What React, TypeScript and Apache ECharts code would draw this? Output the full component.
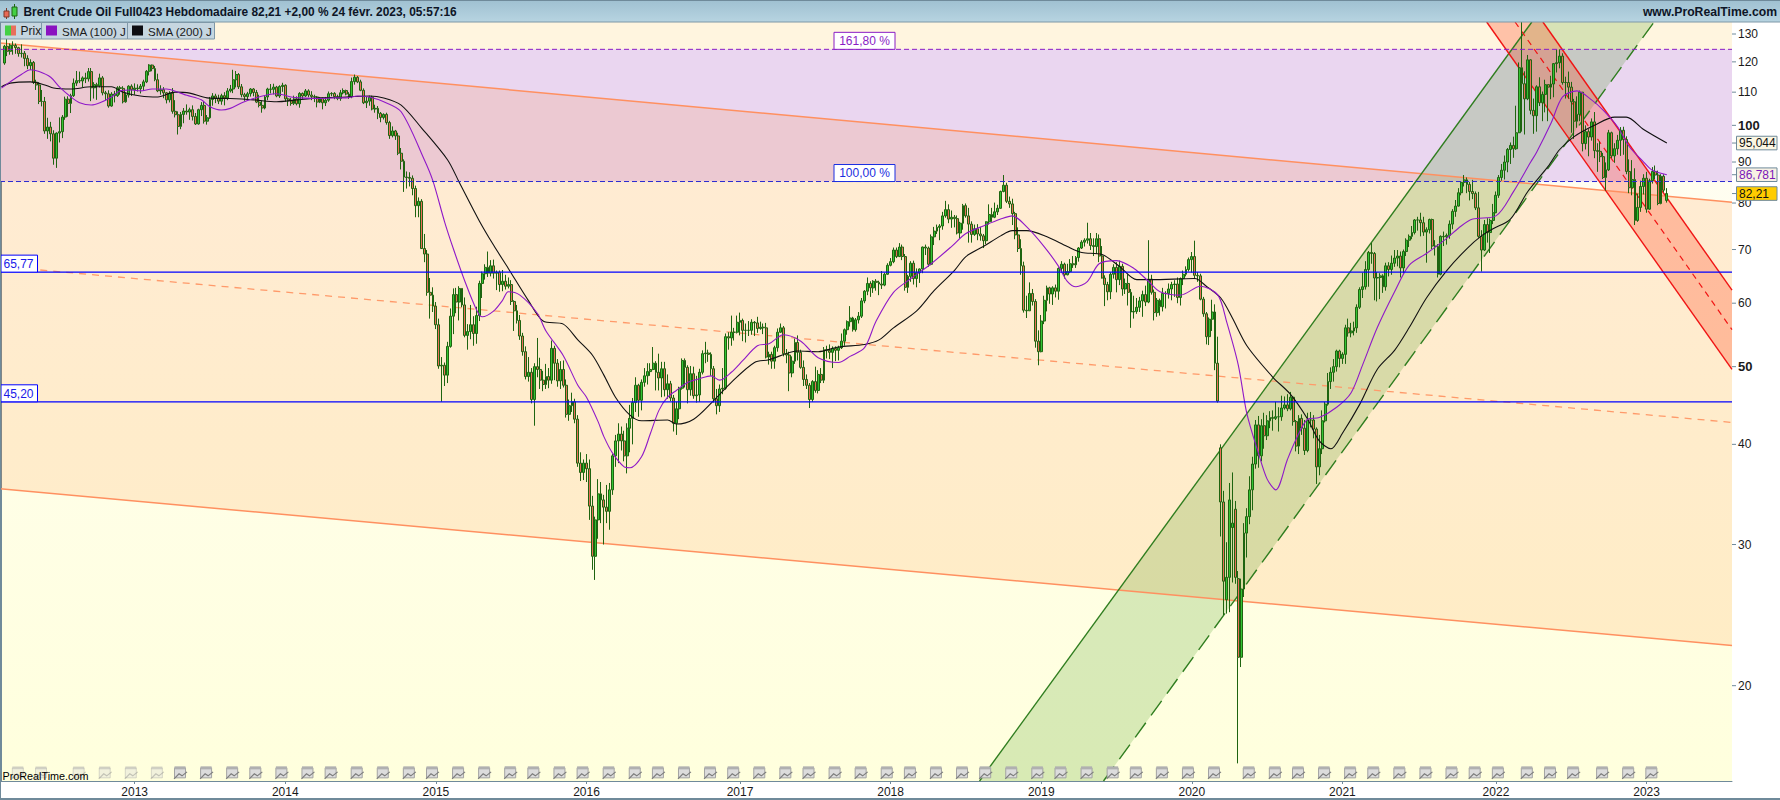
import React, { useEffect, useRef } from "react";
import * as echarts from "echarts";

const FONT = '"Liberation Sans", Arial, sans-serif';

// Weekly candles: [open, close, low, high]
const y2012 = [
[119.6,125.5,119,126],[125.5,123.7,122,128.4],[123.7,125.9,122.5,126.5],[125.9,125.8,122.5,127.3],[125.8,125,122.8,126.5],[125,122.9,121.8,125.3],[122.9,123,121.5,126.2],[123,121.2,118.5,123.8],[121.2,118.7,117.5,122.3],[118.7,119.8,117.2,120.9],
[119.8,113.2,112.6,120.3],[113.2,112.3,110.7,114],[112.3,107.1,106.3,113.2],[107.1,107.1,105.6,110.7],[107.1,98.4,97.6,108.5],[98.4,99.5,96.2,102.2],[99.5,97.6,95.5,101],[97.6,91,89.3,98.6],[91,97.8,88.5,98],[97.8,98.2,95.2,102.3],
[98.2,102.4,96.4,103],[102.4,107.8,101.6,108.6],[107.8,106.5,102.5,108.7],[106.5,108.9,103.6,109.5],[108.9,112.9,108.5,114.4],[112.9,113.7,112,116.9],[113.7,113.6,112.9,116.7],[113.6,114.6,111.6,115.1],[114.6,114.3,112.9,116.3],[114.3,116.7,113.4,117.9],
[116.7,111.4,107.2,117.9],[111.4,112.4,108,113.2],[112.4,112,107.6,113],[112,114.6,111.5,116],[114.6,109.8,109,115.2],[109.8,109.5,107.5,110.4],[109.5,105.7,105.2,110.6],[105.7,109.4,105.5,110],[109.4,108.9,106.8,110.4],[108.9,111.4,108.5,111.9],
[111.4,111.2,109.2,112],[111.2,107,106.5,111.9],[107,109.1,106.7,109.9],[109.1,111.9,108.3,112.2],[111.9,110.8,108.8,112.5],
];
const y2013 = [
[110.8,111.3,109.2,112.8],[111.3,111.1,110.2,112.5],[111.1,111.9,109.6,112.6],[111.9,113.3,110.5,114],[113.3,116.8,112.9,117.2],[116.8,118.9,115.4,119.2],[118.9,117.7,116.8,119.1],[117.7,114,113.5,118.6],[114,110.4,110,116],[110.4,110.8,109.2,112.2],
[110.8,109.8,108.1,111.6],[109.8,107.6,106.5,110],[107.6,109.7,106.8,110.3],[109.7,104.1,103.4,111.3],[104.1,103.1,102.3,107.5],[103.1,99.7,97.4,104.1],[99.7,103.2,98.9,103.9],[103.2,104.2,100.6,105.1],[104.2,103.9,103.1,106.2],[103.9,104.6,101.6,105.2],
[104.6,102.6,101.4,105.9],[102.6,100.4,100.1,103.6],[100.4,104.6,100.2,104.9],[104.6,105.9,102.7,106.9],[105.9,101.2,100.5,107.2],[101.2,102.2,100.2,103],[102.2,107.7,101.9,108.5],[107.7,108.8,105.8,109.7],[108.8,108.1,106.6,109.5],[108.1,107.2,106.3,109.2],
[107.2,108.9,106.1,109.5],[108.9,108.2,105.9,110],[108.2,110.4,107.5,111.3],[110.4,111,109.9,112.3],[111,114,109.7,117.3],[114,115.7,111.5,116.9],[115.7,111.7,111,116.2],[111.7,109.2,108.4,112.6],[109.2,108.6,107.3,109.8],[108.6,109.5,107.5,110.1],
[109.5,111,108.6,111.3],[111,109.9,108.7,111.3],[109.9,106.9,106.6,110.7],[106.9,105.9,105.3,109.2],[105.9,105.1,103.7,107.4],[105.1,108.5,104.7,108.9],[108.5,111,107.5,111.4],[111,110.9,109.6,112.6],[110.9,111.6,109.3,112.7],[111.6,108.8,108.4,112],
[108.8,111.8,108.2,112.2],[111.8,112.2,110.1,113],
];
const y2014 = [
[112.2,107.9,107,112.5],[107.9,107.3,105.7,108.3],[107.3,106.5,105.8,108.2],[106.5,107.9,106,108.9],[107.9,106.4,105.9,108.7],[106.4,109.6,105.2,110],[109.6,108.8,107.8,109.9],[108.8,110.4,108.5,111],[110.4,109.1,108.4,110.9],[109.1,108.6,107.5,110.3],
[108.6,108.5,106.9,109.2],[108.5,106.9,105.3,108.8],[106.9,108.1,106.6,108.5],[108.1,106.7,104.7,108.3],[106.7,107.5,105.7,108.5],[107.5,109.5,107,110.2],[109.5,109.6,108.7,110],[109.6,108.6,107.8,110],[108.6,108,107.5,109.2],[108,109.8,107.3,110.7],
[109.8,110.5,109.3,111.2],[110.5,109.4,109,110.8],[109.4,108.6,107.9,110],[108.6,113.4,108.1,114.7],[113.4,114.8,112.4,115.7],[114.8,113.3,112.9,115.2],[113.3,110.6,110.3,114],[110.6,106.7,106.3,111.2],[106.7,107.2,105.1,108.5],[107.2,108.4,105.8,108.9],
[108.4,104.8,104.4,108.9],[104.8,105,103.7,106.1],[105,103.5,101.8,105.7],[103.5,102.3,100.9,103.9],[102.3,103.2,101.7,103.5],[103.2,100.8,100.2,103.7],[100.8,97.1,96.2,101.3],[97.1,98.4,96.6,99.7],[98.4,97,95.9,98.7],[97,92.3,91.8,97.9],
[92.3,90.2,88.1,93.7],[90.2,86.2,82.6,90.7],[86.2,86.1,83.4,87.6],[86.1,85.9,83.9,87.4],[85.9,83.4,81.8,86.6],[83.4,79.4,76.8,84.1],[79.4,80.4,76.8,81.3],[80.4,70.2,70.1,80.9],[70.2,69.1,67.5,73.2],[69.1,61.9,61.3,69.9],
[61.9,61.4,57.4,64.5],[61.4,59.5,58.5,62.8],
];
const y2015 = [
[59.5,56.4,55.7,60.2],[56.4,50.1,49.7,57.4],[50.1,50.2,45.2,51.4],[50.2,48.8,47.3,50.6],[48.8,53,47.7,53.7],[53,57.8,52.8,59.1],[57.8,61.5,54.9,62.6],[61.5,60.2,58.3,62.7],[60.2,62.6,57.1,63],[62.6,59.7,59.3,62.6],
[59.7,54.7,54.4,61],[54.7,55.3,52.5,56.5],[55.3,56.4,54.1,59.7],[56.4,55,53.1,57.8],[55,57.9,53.4,59.4],[57.9,63.5,57,64],[63.5,65.3,60.9,65.7],[65.3,66.5,64.2,67.1],[66.5,65.4,64.7,69.6],[65.4,66.8,64.8,67.9],
[66.8,65.4,64.4,68],[65.4,65.6,62.3,65.9],[65.6,63.3,62,65.9],[63.3,63.9,62.1,66],[63.9,63,62.4,65.1],[63,63.3,62.6,64.6],[63.3,60.3,59.7,64.1],[60.3,58.7,55.4,60.5],[58.7,57.1,56.6,59.7],[57.1,54.6,54,58],
[54.6,52.2,51.6,55.1],[52.2,48.6,48.2,53],[48.6,49.2,47.9,51.4],[49.2,45.5,45,49.8],[45.5,50,42.2,50.5],[50,49.6,48.5,54.3],[49.6,48.1,46.9,51.3],[48.1,47.5,46.6,49.4],[47.5,48.6,46.9,50.4],[48.6,48.1,47,49.8],
[48.1,52.7,47.6,53.9],[52.7,50.5,48.1,53.1],[50.5,48,47.2,51.1],[48,49.6,46.9,50.8],[49.6,47.4,47.1,50.9],[47.4,43.6,43.2,48.2],[43.6,44.7,42.8,45.5],[44.7,45.2,43.9,46.4],[45.2,43,42.5,45.6],[43,37.9,37.5,43.5],
[37.9,36.9,36,39.1],[36.9,37.9,36.1,38.3],
];
const y2016 = [
[37.9,37.3,35.9,38.9],[37.3,33.5,32.2,38.3],[33.5,29,27.9,34.5],[29,32.2,27.1,32.5],[32.2,34.7,30.5,36.2],[34.7,34.1,31.9,35.9],[34.1,33.4,30,34.6],[33.4,33,31.9,35.6],[33,35.1,31.3,35.8],[35.1,38.7,34.6,38.9],
[38.7,40.4,37.5,41.1],[40.4,41.2,37.9,42.5],[41.2,40.4,39.3,42.1],[40.4,38.7,38.1,41.6],[38.7,41.9,36.8,42.5],[41.9,43.1,39.1,44.8],[43.1,45.1,40,45.7],[45.1,47.4,43.9,48.5],[47.4,45.4,43.3,47.6],[45.4,47.8,44.1,48.2],
[47.8,48.7,47.2,49.8],[48.7,49.3,47.5,50.5],[49.3,49.6,48.7,50.5],[49.6,50.5,49.5,52.9],[50.5,49.2,46.7,50.8],[49.2,48.4,46.7,51.9],[48.4,49.7,45.8,50.7],[49.7,46.8,45.9,50.7],[46.8,47.6,45.6,48.9],[47.6,45.7,45.3,48],
[45.7,42.5,41.5,46.1],[42.5,44.3,41.1,45.2],[44.3,47,43,47.2],[47,50.9,46.8,51.2],[50.9,49.9,47.1,51.2],[49.9,46.8,45,50.2],[46.8,49,46,50.1],[49,46,45.6,50],[46,46.1,45.1,48.7],[46.1,49.2,45.2,49.7],
[49.2,51.9,48.9,52.4],[51.9,52,50.5,53.7],[52,51.8,50.7,52.5],[51.8,49.7,48.7,52.1],[49.7,45.6,45.1,50.1],[45.6,44.7,43.6,46.9],[44.7,46.9,43.9,47.5],[46.9,47,46.2,49.8],[47,54.5,46.8,55],[54.5,54.3,52.5,55.2],
[54.3,55.2,53.1,57.9],[55.2,55.2,53.9,55.9],[55.2,56.8,55,57.9],
];
const y2017 = [
[56.8,57.1,54.7,58.4],[57.1,55.5,53.8,57.4],[55.5,55.5,53.6,56.6],[55.5,55.5,54.6,57],[55.5,56.8,54.8,57.3],[56.8,56.7,54.6,57],[56.7,55.8,55.1,57.7],[55.8,56,55.6,56.9],[56,55.9,54.9,56.6],[55.9,51.4,51.2,56.7],
[51.4,51.8,50.3,52.2],[51.8,50.8,49.7,52.2],[50.8,52.8,49.7,53.1],[52.8,55.2,52.2,55.8],[55.2,55.9,55.1,56.6],[55.9,51.9,51.5,56.2],[51.9,51.7,50.5,52.6],[51.7,49.1,46.6,52.2],[49.1,50.8,48.5,51.5],[50.8,53.6,50.4,54.2],
[53.6,52.1,50.9,54.7],[52.1,49.9,49.7,52.5],[49.9,48.2,47.3,50.9],[48.2,47.4,46.9,48.9],[47.4,45.5,44.4,47.7],[45.5,47.9,45.2,48.1],[47.9,46.7,46.4,50],[46.7,48.9,46.3,49.5],[48.9,48.1,47.7,49.8],[48.1,52.5,47.7,52.9],
[52.5,52.4,51.2,53.1],[52.4,52.1,51.1,53.3],[52.1,52.7,49.8,53],[52.7,52.4,50.8,53],[52.4,52.8,50.9,53.1],[52.8,53.8,52.6,55],[53.8,55.6,53.1,55.8],[55.6,56.9,54.8,57.1],[56.9,57.5,56.1,59.5],[57.5,55.6,55.3,57.7],
[55.6,57.2,55.3,57.5],[57.2,57.8,56.6,58.5],[57.8,60.4,57.5,60.9],[60.4,62.1,60,62.3],[62.1,63.5,61.4,64.6],[63.5,62.7,61.1,63.9],[62.7,63.9,61.8,64.1],[63.9,63.7,62.2,64.3],[63.7,63.4,61.4,64],[63.4,63.2,62.5,65.8],
[63.2,65.2,63,65.5],[65.2,66.9,65.1,67.3],
];
const y2018 = [
[66.9,67.6,66.7,68.3],[67.6,69.9,67.3,70.4],[69.9,68.6,68.3,70.4],[68.6,70.5,68.5,71.3],[70.5,68.6,67.9,71],[68.6,62.8,62.2,69.1],[62.8,64.8,61.8,65.1],[64.8,67.3,63.8,67.7],[67.3,64.4,63.3,67.8],[64.4,65.5,62.8,66.3],
[65.5,66.2,63.6,66.3],[66.2,70.5,65.4,70.6],[70.5,70.3,68.9,71],[70.3,67.1,66.6,70.6],[67.1,72.6,66.9,73.1],[72.6,73.8,70.9,74.7],[73.8,74.6,73.2,75.2],[74.6,74.9,71.9,75.3],[74.9,77.1,74.1,78],[77.1,78.5,76.7,80.5],
[78.5,76.4,75.5,79.7],[76.4,76.8,74.5,78.3],[76.8,76.5,74.6,77.3],[76.5,73.4,73.1,77.2],[73.4,75.5,72.2,75.8],[75.5,79.4,74.1,79.8],[79.4,77.1,76.7,79.9],[77.1,75.3,71.4,78.9],[75.3,73.1,71.4,75.9],[73.1,74.3,72.8,75.2],
[74.3,73.2,71.9,75.3],[73.2,72.8,71.8,74.7],[72.8,71.8,70.3,73.2],[71.8,75.8,71.1,75.9],[75.8,77.4,75.2,79.7],[77.4,76.8,75.8,78.9],[76.8,78,76.6,80.1],[78,78.8,77.3,79.6],[78.8,82.7,78.7,82.9],[82.7,84.2,82.5,86.7],
[84.2,80.4,80,84.8],[80.4,79.8,78.9,81.5],[79.8,77.6,75.1,81],[77.6,73,72.1,78],[73,70.2,69.5,74.6],[70.2,66.8,65.1,72.1],[66.8,58.8,58.4,67.6],[58.8,58.7,57.5,61.3],[58.7,61.7,58.7,63.7],[61.7,60.3,59.6,62.5],
[60.3,53.8,52.8,60.7],[53.8,52.2,50.2,55.5],
];
const y2019 = [
[52.2,57,52.1,58],[57,60.5,56.5,61.3],[60.5,62.7,58.6,63.1],[62.7,61.6,59.9,62.9],[61.6,62.7,59.7,63],[62.7,62.1,61,63.3],[62.1,66.3,60.6,66.5],[66.3,67.1,65.5,67.7],[67.1,65.1,64.4,67.4],[65.1,65.7,65,67.2],
[65.7,67.2,65.4,68.1],[67.2,67,66.4,68.7],[67,68.4,66.4,68.7],[68.4,70.3,67.6,70.5],[70.3,71.5,70.1,71.9],[71.5,71.9,70.6,72.3],[71.9,72.2,71.2,75.6],[72.2,70.8,69.9,73.4],[70.8,70.6,68.7,72.3],[70.6,72.2,69.1,73.4],
[72.2,68.7,67.5,73.1],[68.7,64.5,64.4,70.7],[64.5,63.3,59.5,65],[63.3,62,60.5,63.8],[62,65.2,60.7,65.6],[65.2,66.5,64.4,67.1],[66.5,64.2,61.9,67.5],[64.2,66.7,63.2,67.8],[66.7,62.5,61.3,67.2],[62.5,63.5,61.6,64.4],
[63.5,61.9,59.6,65.2],[61.9,58.5,55.9,62.5],[58.5,58.6,57.4,61.3],[58.6,59.3,58.2,60.9],[59.3,60.4,58.5,61.1],[60.4,61.5,57.7,62.2],[61.5,60.2,59.5,63.1],[60.2,64.3,60,71.9],[64.3,61.9,61.5,65.1],[61.9,58.4,57.1,62.4],
[58.4,60.5,57.7,60.9],[60.5,59.4,57.9,60.8],[59.4,61.7,58.6,62.7],[61.7,61.7,59.1,62.1],[61.7,62.5,60.8,63.5],[62.5,63.3,60.5,63.8],[63.3,63.4,61.1,64.1],[63.4,61,60,64.6],[61,64.4,59.6,64.6],[64.4,65.2,63.2,65.9],
[65.2,66.1,64.8,66.7],[66.1,68,65.7,68.4],
];
const y2020 = [
[68,68.6,65.5,69.5],[68.6,65,64.3,71.8],[65,64.9,63.8,65.6],[64.9,60.7,60.5,65.3],[60.7,58.2,57.7,61.1],[58.2,54.5,53.3,58.5],[54.5,57.3,53.2,57.6],[57.3,58.5,55.4,60.6],[58.5,50.5,49.5,59.8],[50.5,45.3,45.1,54.5],
[39.6,33.9,30.7,40],[33.9,27,24.5,35],[25.6,27.3,24.6,30.2],[27.3,34.1,24.7,35.8],[31.5,31.9,26.9,36.9],[33.2,27.3,26.8,34],[27.2,21.7,16,27.8],[21.7,26.4,21.1,27.2],[26.4,31,25.8,31.9],[31,32.5,28.9,33.3],
[32.5,35.1,31.8,36.5],[35.1,37.8,33.1,38.6],[37.8,42.3,37.3,42.9],[42.3,38.7,37.4,43.4],[38.7,42.2,38.1,43],[42.2,41,39.5,43.8],[41,42.8,40.5,43.5],[42.8,43.2,41.9,44],[43.2,43.1,41.6,44.1],[43.1,43.3,42.9,45.2],
[43.3,43.3,41.5,44.5],[43.3,44.4,42.8,46],[44.4,44.8,44.2,45.9],[44.8,44.3,44,46.2],[44.3,45.8,44.1,46.5],[45.8,42.7,42.2,45.9],[42.7,39.8,39.2,42.9],[39.8,43.1,38.9,43.5],[43.1,41.9,41.1,43.6],[41.9,39.3,38.8,42.9],
[39.3,42.9,39.1,43.8],[42.9,42.9,42,43.9],[42.9,41.8,40.7,43.5],[41.8,37.5,35.7,42],[37.5,39.5,36.6,41.1],[39.5,42.8,38.9,44.1],[42.8,44.9,42.6,45.2],[44.9,47.9,44.7,49.1],[47.9,49.2,46.9,49.9],[49.2,50,47.9,51.1],
[50,52.3,49.3,52.5],[52.3,51.2,49.9,52.5],
];
const y2021 = [
[51.2,51.8,50.4,52.1],[51.8,55.9,50.4,56.4],[55.9,55.1,54.5,57.4],[55.1,55.4,54.4,56.7],[55.4,55.9,54.7,56.9],[55.9,59.3,55.1,59.8],[59.3,62.4,59,62.8],[62.4,62.9,60.9,65.5],[62.9,66.1,62.4,67.7],[66.1,69.4,62.9,69.7],
[69.4,69.2,67.2,71.4],[69.2,64.5,60.5,69.5],[64.5,64.6,60.3,65.6],[64.6,64.9,60.7,65.4],[64.9,62.9,61.8,65.2],[62.9,66.8,62.2,67.4],[66.8,66.1,64.8,67.5],[66.1,67.3,65.1,68.8],[67.3,68.3,66.6,69.9],[68.3,68.7,66.7,69.9],
[68.7,66.4,64.6,69.6],[66.4,69.6,65.4,70],[69.6,71.9,68.7,72.3],[71.9,72.7,70.5,73.1],[72.7,73.5,72.1,74.9],[73.5,76.2,73.1,76.4],[76.2,76.2,73.9,76.9],[76.2,75.6,72.7,77.8],[75.6,73.6,72.8,76.9],[73.6,74.1,67.4,74.6],
[74.1,76.3,73.3,76.5],[76.3,70.7,70.1,76.5],[70.7,70.6,68.8,71.9],[70.6,65.2,64.6,71.1],[65.2,72.7,65,72.9],[72.7,72.6,70.7,73.7],[72.6,72.9,71,73.3],[72.9,75.3,72.2,76.1],[75.3,78.1,74.2,78.6],[78.1,79.3,76.9,80.7],
[79.3,82.4,79.2,83.5],[82.4,84.9,81.8,85.1],[84.9,85.5,83.9,86.7],[85.5,84.4,82.3,86.1],[84.4,82.7,80.6,85],[82.7,82.2,80.9,85.5],[82.2,78.9,78.4,82.7],[78.9,72.7,72.4,82.6],[72.7,69.9,65.7,74],[69.9,75.2,69.7,76.2],
[75.2,73.5,71.4,76.6],[73.5,76.1,69.3,76.5],[76.1,77.8,75.3,79.8],
];
const y2022 = [
[77.8,81.8,77.7,82.7],[81.8,86.1,81.2,86.7],[86.1,87.9,85.3,89.5],[87.9,90,85.6,91.7],[90,93.3,87.4,93.7],[93.3,94.4,89.5,95.2],[94.4,93.5,91.1,96.8],[93.5,97.9,93.2,105.8],[97.9,118,97.8,119.8],[118,112.7,98.2,139.1],
[112.7,107.9,97.4,116.8],[107.9,120.7,107.5,122.4],[120.7,104.4,103.2,120.9],[104.4,102.8,97.6,108],[102.8,111.7,98.2,112.2],[111.7,106.7,105.7,114.8],[106.7,109.3,101.2,110.2],[109.3,112.4,103.8,114],[112.4,111.6,101.2,112.5],[111.6,112.6,107.8,115.3],
[112.6,119.4,108.4,119.6],[119.4,119.7,116.4,124.4],[119.7,122,117.8,124.4],[122,113.1,112.4,123],[113.1,113.1,108,115],[113.1,111.6,108,116.7],[111.6,107,97.9,113.3],[107,101.2,96.2,107.9],[101.2,103.2,99.3,108.7],[103.2,110,101.2,110.5],
[110,94.9,92.8,110],[94.9,98.2,93.3,100],[98.2,96.7,91.5,98.9],[96.7,101,95.7,102],[101,93,91,103.9],[93,92.8,87.5,95],[92.8,91.4,90,95.5],[91.4,86.1,85.7,92.4],[86.1,88,82.9,89.9],[88,97.9,87.7,98.7],
[97.9,91.6,91,98.2],[91.6,93.5,89.8,95],[93.5,95.8,91.9,97.3],[95.8,98.6,91.6,99.5],[98.6,96,91.9,99.6],[96,87.6,86.9,96.9],[87.6,83.6,82.3,90.7],[83.6,85.6,81.8,90.5],[85.6,76.1,75.1,88.4],[76.1,79,75.8,82.2],
[79,83.9,78,85.3],[83.9,85.9,82,86.9],
];
const y2023 = [
[85.9,78.6,77.8,87.5],[78.6,85.3,78.5,85.8],[85.3,87.6,84.6,88.7],[87.6,86.7,85.7,89.1],[86.7,79.9,79.5,87.8],[79.9,86.4,79.7,86.9],[86.4,83,82.5,86.9],[80.6,82.21,80.1,83.5],
];

// [week index, value] points
const sma100 = [[0,111.3],[3,113.3],[7,115.8],[10,117.3],[13,116.7],[17,114.8],[20,111.7],[24,108.5],[27,106.7],[31,106],[34,106.7],[38,108.5],[41,110.4],[45,110.7],[48,110.4],[52,111],[57,111],[61,110],[64,109],[69,107.6],[72,105.5],[76,104.5],[79,105],[83,106.7],[87,108],[92,109.2],[95,109.5],[100,108.5],[103,108.2],[110,108],[115,108.2],[119,108.2],[123,108.8],[127,108.5],[132,107],[138,104],[146,90.6],[149,85.2],[153,75.8],[156,70.2],[160,63.9],[164,58.9],[166,57.7],[170,58.7],[173,60.5],[175,62],[179,61.4],[185,58.3],[188,55.4],[194,51.6],[199,47.4],[202,45.8],[206,42.7],[208,40.9],[211,39],[215,37.5],[217,37.4],[221,38.6],[224,41.2],[227,44.1],[230,45.8],[233,46.7],[237,47.8],[241,48.3],[245,48.7],[248,48.1],[252,49.2],[256,50.9],[261,53.1],[265,53.4],[270,54.8],[276,53.8],[282,51.3],[289,50.6],[293,51.5],[298,52.8],[302,57],[308,61.9],[314,64.4],[321,67.2],[328,70.6],[333,73.3],[339,74.9],[345,76.4],[349,77.1],[354,74.7],[360,70.6],[365,66.7],[368,63.9],[371,62.9],[375,63.9],[379,67.2],[385,67.8],[391,66.3],[396,63.9],[400,62],[407,61.4],[414,63],[420,61.4],[423,56.9],[427,50.3],[430,43.7],[434,39],[437,36.2],[440,35.1],[444,38.3],[447,40.6],[451,43],[455,43.2],[461,44.5],[466,46.4],[470,50.3],[475,55.9],[481,62],[486,66.9],[492,69.2],[498,71.8],[504,74.9],[508,76.4],[516,77.1],[522,82.6],[528,90],[530,92.5],[535,100.6],[539,108.5],[544,110.4],[549,107.6],[553,104.5],[558,99.6],[562,94.1],[567,90],[570,87.9],[575,86.781]];
const sma200 = [[0,111.7],[3,112.9],[10,113.3],[15,112.3],[18,111.3],[24,111],[31,111.7],[38,111.7],[42,110],[48,108.8],[54,108.5],[60,110],[65,109.7],[71,108.2],[79,108],[87,107.6],[95,107],[102,107.6],[110,108.2],[119,108.5],[127,108.8],[132,108.2],[138,106],[145,99.3],[154,90.6],[158,85],[165,76],[170,70.8],[175,66.3],[182,60.4],[187,57],[194,56.5],[199,54],[204,51.7],[208,48.8],[212,45.8],[217,43.5],[221,42.8],[230,42.9],[233,42.4],[239,43],[246,45.4],[252,47.8],[260,50.6],[265,51],[275,52.3],[282,52.2],[289,52.9],[298,53.3],[303,54],[308,55.9],[316,58.7],[322,62.2],[329,65.9],[333,68.6],[339,70.6],[345,72.8],[349,73.9],[354,73.9],[361,72.6],[368,70.6],[373,69.4],[380,69],[386,66.7],[392,64.2],[397,64.2],[412,64.4],[416,63],[421,60.9],[425,57.5],[430,53.1],[439,48.5],[445,46.2],[451,43],[455,40.4],[459,39.5],[463,41.3],[469,44.9],[475,49.6],[481,52.4],[486,55.9],[492,60.9],[499,65.9],[506,70.2],[511,72.8],[515,74.3],[521,76.4],[527,82.7],[534,88.9],[538,93.3],[543,96.8],[550,100],[557,102.4],[561,102.4],[567,98.8],[575,95.044]];

// axes
const firstWeek = Date.UTC(2012, 1, 17);
const weekCount = 598;
const categories: string[] = [];
for (let i = 0; i < weekCount; i++) categories.push(new Date(firstWeek + i * 7 * 864e5).toISOString().slice(0, 10));
const priceMin = 15.21;
const priceMax = 134.56;
const weekMin = -0.5;
const weekMax = 597.5;
const priceTicks = [130, 120, 110, 100, 90, 80, 70, 60, 50, 40, 30, 20];
const boldTicks = [100, 50];

// levels and channels: [week, price]
const fibLevels = [124.4, 85.1];
const fibLabels = ["161,80 %", "100,00 %"];
const fibColors = ["#8a1cc4", "#1a2ee0"];
const supportLevels = [65.6, 45.2];
const supportLabels = ["65,77", "45,20"];
const orangeTop = [[-0.5, 126.7], [597.5, 80.2]];
const orangeMid = [[13.4, 66], [597.5, 42.6]];
const orangeBottom = [[-0.5, 35.2], [597.5, 22.44]];
const greenTop = [[337.7, 15.21], [528.4, 134.56]];
const greenBottom = [[380.5, 15.21], [570.6, 134.56]];
const redTop = [[532.2, 134.56], [597.5, 62.3]];
const redMid = [[522.6, 134.56], [597.5, 55.6]];
const redBottom = [[512.8, 134.56], [597.5, 49.6]];
const lastValues = [95.044, 86.781, 82.21];
const lastTexts = ["95,044", "86,781", "82,21"];
const lastFills = ["#fbf6e2", "#f7f1e4", "#ffcc00"];
const lastInk = ["#111111", "#7a18b8", "#111111"];
const eventWeeks = [6,14,27,36,45,54,62,71,80,88,97,106,114,123,132,141,149,158,167,176,184,193,201,210,219,227,236,245,253,262,271,279,288,297,306,314,323,332,340,349,358,366,375,384,392,401,410,419,431,440,448,457,466,474,483,492,501,509,517,527,535,543,553,562,570];
const fadedEvents = 6;

const zones = [
  { fill: "#fff5df", points: [[weekMin, priceMax], [weekMax, priceMax], [weekMax, fibLevels[0]], [weekMin, fibLevels[0]]] },
  { fill: "#ead6f0", points: [[weekMin, fibLevels[0]], [weekMax, fibLevels[0]], [weekMax, fibLevels[1]], [weekMin, fibLevels[1]]] },
  { fill: "rgba(255,105,0,0.12)", points: [orangeTop[0], orangeTop[1], orangeBottom[1], orangeBottom[0]] },
  { fill: "rgba(60,150,20,0.2)", points: [greenTop[0], greenTop[1], greenBottom[1], greenBottom[0]] },
  { fill: "rgba(255,50,10,0.26)", points: [redTop[0], [weekMax, redTop[1][1]], redBottom[1], redBottom[0]] },
];

const SLATE = "#6f8a9a";

function lineSeries(points: number[][], color: string, width: number, type: any, z: number) {
  return {
    type: "line", xAxisIndex: 1, yAxisIndex: 0, data: points, symbol: "none", silent: true, z,
    lineStyle: { color, width, type }, clip: true,
  };
}

function sideText(text: string, x: number, y: number, fill: string, size: number, weight = "normal", align = "left") {
  return { type: "text", style: { text, x, y, fill, fontSize: size, fontFamily: FONT, fontWeight: weight, align, verticalAlign: "middle" } };
}

const headerElements: any[] = [
  { type: "rect", z: 100, shape: { x: 0, y: 0, width: 1780, height: 22 }, style: { fill: new echarts.graphic.LinearGradient(0, 0, 0, 1, [{ offset: 0, color: "#9fc0d1" }, { offset: 1, color: "#b7d4e1" }]) } },
  { type: "rect", z: 101, shape: { x: 0, y: 0, width: 1780, height: 1 }, style: { fill: SLATE } },
  { type: "rect", z: 101, shape: { x: 0, y: 21.5, width: 1780, height: 1 }, style: { fill: "#7f98a8" } },
  { type: "rect", z: 102, shape: { x: 6, y: 8, width: 1, height: 11 }, style: { fill: "#7a3a2a" } },
  { type: "rect", z: 102, shape: { x: 4, y: 11, width: 5, height: 6 }, style: { fill: "#e86a55", stroke: "#7a3a2a", lineWidth: 1 } },
  { type: "rect", z: 102, shape: { x: 14, y: 4, width: 1, height: 15 }, style: { fill: "#1e6410" } },
  { type: "rect", z: 102, shape: { x: 12, y: 7, width: 5, height: 9 }, style: { fill: "#44d044", stroke: "#1e6410", lineWidth: 1 } },
  { type: "text", z: 102, style: { text: "Brent Crude Oil Full0423 Hebdomadaire 82,21 +2,00 % 24 févr. 2023, 05:57:16", x: 23.5, y: 11.5, fill: "#0d1526", fontSize: 11.9, fontWeight: "bold", fontFamily: FONT, align: "left", verticalAlign: "middle" } },
  { type: "text", z: 102, style: { text: "www.ProRealTime.com", x: 1777, y: 11.5, fill: "#0d1526", fontSize: 12.2, fontWeight: "bold", fontFamily: FONT, align: "right", verticalAlign: "middle" } },
  // legend
  { type: "rect", z: 100, shape: { x: 0.5, y: 22.5, width: 41, height: 16.5 }, style: { fill: "#c6d6e0", stroke: "#7f98a8", lineWidth: 1 } },
  { type: "rect", z: 100, shape: { x: 41.5, y: 22.5, width: 86, height: 16.5 }, style: { fill: "#c6d6e0", stroke: "#7f98a8", lineWidth: 1 } },
  { type: "rect", z: 100, shape: { x: 127.5, y: 22.5, width: 87, height: 16.5 }, style: { fill: "#c6d6e0", stroke: "#7f98a8", lineWidth: 1 } },
  { type: "rect", z: 102, shape: { x: 5, y: 25.5, width: 6, height: 10 }, style: { fill: "#44d044" } },
  { type: "rect", z: 102, shape: { x: 11, y: 25.5, width: 5, height: 10 }, style: { fill: "#e8705c" } },
  { type: "text", z: 102, style: { text: "Prix", x: 20.5, y: 31, fill: "#1a1a1a", fontSize: 12, fontFamily: FONT, align: "left", verticalAlign: "middle" } },
  { type: "rect", z: 102, shape: { x: 46, y: 25.5, width: 11, height: 10 }, style: { fill: "#8a12c0" } },
  { type: "text", z: 102, style: { text: "SMA (100) J", x: 62, y: 31, fill: "#1a1a1a", fontSize: 11.6, fontFamily: FONT, align: "left", verticalAlign: "middle" } },
  { type: "rect", z: 102, shape: { x: 132, y: 25.5, width: 11, height: 10 }, style: { fill: "#0d0d12" } },
  { type: "text", z: 102, style: { text: "SMA (200) J", x: 148, y: 31, fill: "#1a1a1a", fontSize: 11.6, fontFamily: FONT, align: "left", verticalAlign: "middle" } },
  // frame
  { type: "rect", z: 100, shape: { x: 0, y: 22, width: 1, height: 778 }, style: { fill: SLATE } },
  { type: "rect", z: 100, shape: { x: 0, y: 798, width: 1780, height: 2 }, style: { fill: SLATE } },
  // watermark
  { type: "text", z: 102, style: { text: "ProRealTime.com", x: 2.5, y: 775.5, fill: "#000000", fontSize: 10.8, fontFamily: FONT, align: "left", verticalAlign: "middle" } },
];

export default function App() {
  const ref = useRef<HTMLDivElement>(null);
  useEffect(() => {
    document.body.style.margin = "0";
    const chart = echarts.init(ref.current!, null, { renderer: "svg" });
    const candles = [["-", "-", "-", "-"], ...y2012, ...y2013, ...y2014, ...y2015, ...y2016, ...y2017, ...y2018, ...y2019, ...y2020, ...y2021, ...y2022, ...y2023];
    const isYearStart = (i: number) => i > 0 && categories[i].slice(0, 4) !== categories[i - 1].slice(0, 4);
    chart.setOption({
      animation: false,
      backgroundColor: "#ffffff",
      tooltip: { show: false },
      legend: { show: false },
      grid: {
        left: -0.4, top: 22, width: 1732.4, height: 759, show: true, borderWidth: 0,
        backgroundColor: new echarts.graphic.LinearGradient(0, 0, 0, 1, [
          { offset: 0, color: "#fffdf5" }, { offset: 1, color: "#ffffdd" },
        ]),
      },
      xAxis: [
        {
          type: "category", data: categories, boundaryGap: true, position: "bottom",
          axisLine: { show: true, lineStyle: { color: SLATE, width: 1 } },
          axisTick: { show: true, alignWithLabel: true, length: 3, interval: (i: number) => isYearStart(i), lineStyle: { color: SLATE } },
          axisLabel: { show: true, interval: (i: number) => isYearStart(i), formatter: (v: string) => v.slice(0, 4), color: "#1a1a1a", fontSize: 12, fontFamily: FONT, margin: 5 },
          splitLine: { show: false },
        },
        { type: "value", min: weekMin, max: weekMax, show: false, splitLine: { show: false } },
      ],
      yAxis: [{
        type: "log", logBase: 10, min: priceMin, max: priceMax, position: "right",
        axisLine: { show: true, lineStyle: { color: SLATE, width: 1 } },
        axisTick: { show: false }, axisLabel: { show: false }, splitLine: { show: false }, minorTick: { show: false }, minorSplitLine: { show: false },
      }],
      graphic: { elements: headerElements },
      series: [
        {
          type: "custom", xAxisIndex: 1, yAxisIndex: 0, silent: true, z: 1, clip: true,
          data: zones.map((zone) => zone.points[0]),
          renderItem: (params: any, api: any) => {
            const zone = zones[params.dataIndex];
            return { type: "polygon", shape: { points: zone.points.map((p) => api.coord(p)) }, style: { fill: zone.fill } };
          },
        },
        lineSeries(orangeTop, "#ff9060", 1.5, "solid", 2),
        lineSeries(orangeMid, "#ff9a6a", 1.3, [7, 6], 2),
        lineSeries(orangeBottom, "#ff9060", 1.5, "solid", 2),
        lineSeries(greenTop, "#2f7d1f", 1.4, "solid", 2),
        lineSeries(greenBottom, "#2f7d1f", 1.4, [18, 9], 2),
        lineSeries(redTop, "#f01414", 1.4, "solid", 2),
        lineSeries(redMid, "#f01414", 1.2, [6, 5], 2),
        lineSeries(redBottom, "#f01414", 1.4, "solid", 2),
        {
          type: "candlestick", xAxisIndex: 0, yAxisIndex: 0, data: candles, barWidth: 2.4, silent: true, z: 3,
          itemStyle: { color: "#33c433", color0: "#e96e58", borderColor: "#1e6410", borderColor0: "#1e6410", borderColorDoji: "#1e6410", borderWidth: 1 },
        },
        { type: "line", xAxisIndex: 1, yAxisIndex: 0, data: sma200, symbol: "none", smooth: 0.3, silent: true, z: 4, lineStyle: { color: "#111111", width: 1.1 } },
        { type: "line", xAxisIndex: 1, yAxisIndex: 0, data: sma100, symbol: "none", smooth: 0.3, silent: true, z: 4, lineStyle: { color: "#8f18c8", width: 1.1 } },
        lineSeries([[weekMin, fibLevels[0]], [weekMax, fibLevels[0]]], "#8a1cc4", 1, [5, 3], 5),
        lineSeries([[weekMin, fibLevels[1]], [weekMax, fibLevels[1]]], "#2a2ad0", 1, [5, 3], 5),
        lineSeries([[weekMin, supportLevels[0]], [weekMax, supportLevels[0]]], "#0000ff", 1.3, "solid", 5),
        lineSeries([[weekMin, supportLevels[1]], [weekMax, supportLevels[1]]], "#0000ff", 1.3, "solid", 5),
        {
          // support level labels
          type: "custom", xAxisIndex: 1, yAxisIndex: 0, silent: true, z: 6,
          data: supportLevels.map((v) => [weekMin, v]),
          renderItem: (params: any, api: any) => {
            const p = api.coord([weekMin, supportLevels[params.dataIndex]]);
            return { type: "group", children: [
              { type: "rect", shape: { x: 1, y: p[1] - 17, width: 36.5, height: 17 }, style: { fill: "#ffffff", stroke: "#0000ff", lineWidth: 1 } },
              sideText(supportLabels[params.dataIndex], 3.5, p[1] - 8.2, "#1a1ae8", 12),
            ] };
          },
        },
        {
          // fibonacci labels
          type: "custom", xAxisIndex: 1, yAxisIndex: 0, silent: true, z: 6,
          data: fibLevels.map((v) => [288, v]),
          renderItem: (params: any, api: any) => {
            const p = api.coord([288, fibLevels[params.dataIndex]]);
            const c = fibColors[params.dataIndex];
            return { type: "group", children: [
              { type: "rect", shape: { x: 834, y: p[1] - 17, width: 61, height: 17 }, style: { fill: "#ffffff", stroke: c, lineWidth: 1 } },
              sideText(fibLabels[params.dataIndex], 864.5, p[1] - 8.2, c, 12, "normal", "center"),
            ] };
          },
        },
        {
          // price scale
          type: "custom", xAxisIndex: 1, yAxisIndex: 0, silent: true, z: 7,
          data: priceTicks.map((v) => [weekMax, v]),
          renderItem: (params: any, api: any) => {
            const v = priceTicks[params.dataIndex];
            const p = api.coord([weekMax, v]);
            const bold = boldTicks.includes(v);
            return { type: "group", children: [
              { type: "line", shape: { x1: p[0], y1: p[1], x2: p[0] + 4, y2: p[1] }, style: { stroke: SLATE, lineWidth: 1 } },
              sideText(String(v), p[0] + 6, p[1], "#1a1a1a", bold ? 13 : 12, bold ? "bold" : "normal"),
            ] };
          },
        },
        {
          // last values
          type: "custom", xAxisIndex: 1, yAxisIndex: 0, silent: true, z: 8,
          data: lastValues.map((v) => [weekMax, v]),
          renderItem: (params: any, api: any) => {
            const i = params.dataIndex;
            const p = api.coord([weekMax, lastValues[i]]);
            return { type: "group", children: [
              { type: "line", shape: { x1: p[0], y1: p[1], x2: p[0] + 4, y2: p[1] }, style: { stroke: SLATE, lineWidth: 1 } },
              { type: "rect", shape: { x: p[0] + 4.5, y: p[1] - 6.8, width: 40.5, height: 13.6 }, style: { fill: lastFills[i], stroke: SLATE, lineWidth: 1 } },
              sideText(lastTexts[i], p[0] + 7, p[1], lastInk[i], 12),
            ] };
          },
        },
        {
          // calendar event icons
          type: "custom", xAxisIndex: 1, yAxisIndex: 0, silent: true, z: 6,
          data: eventWeeks.map((w) => [w, 15.57]),
          renderItem: (params: any, api: any) => {
            const p = api.coord([eventWeeks[params.dataIndex], 15.57]);
            const op = params.dataIndex < fadedEvents ? 0.4 : 1;
            const x = p[0] - 7;
            const y = p[1] - 7;
            return { type: "group", children: [
              { type: "rect", shape: { x: x + 0.5, y: y + 2, width: 11, height: 10 }, style: { fill: "#dcdcdc", stroke: "#a2a2a2", lineWidth: 1, opacity: op } },
              { type: "rect", shape: { x: x + 0.5, y: y + 0.5, width: 11, height: 3 }, style: { fill: "#b0b0b0", opacity: op } },
              { type: "polyline", shape: { points: [[x, y + 13], [x + 5, y + 8], [x + 8, y + 10], [x + 13, y + 6]] }, style: { fill: "none", stroke: "#7d7d7d", lineWidth: 1.2, opacity: op } },
            ] };
          },
        },
      ],
    });
    return () => chart.dispose();
  }, []);
  return <div ref={ref} style={{ width: 1780, height: 800 }} />;
}
